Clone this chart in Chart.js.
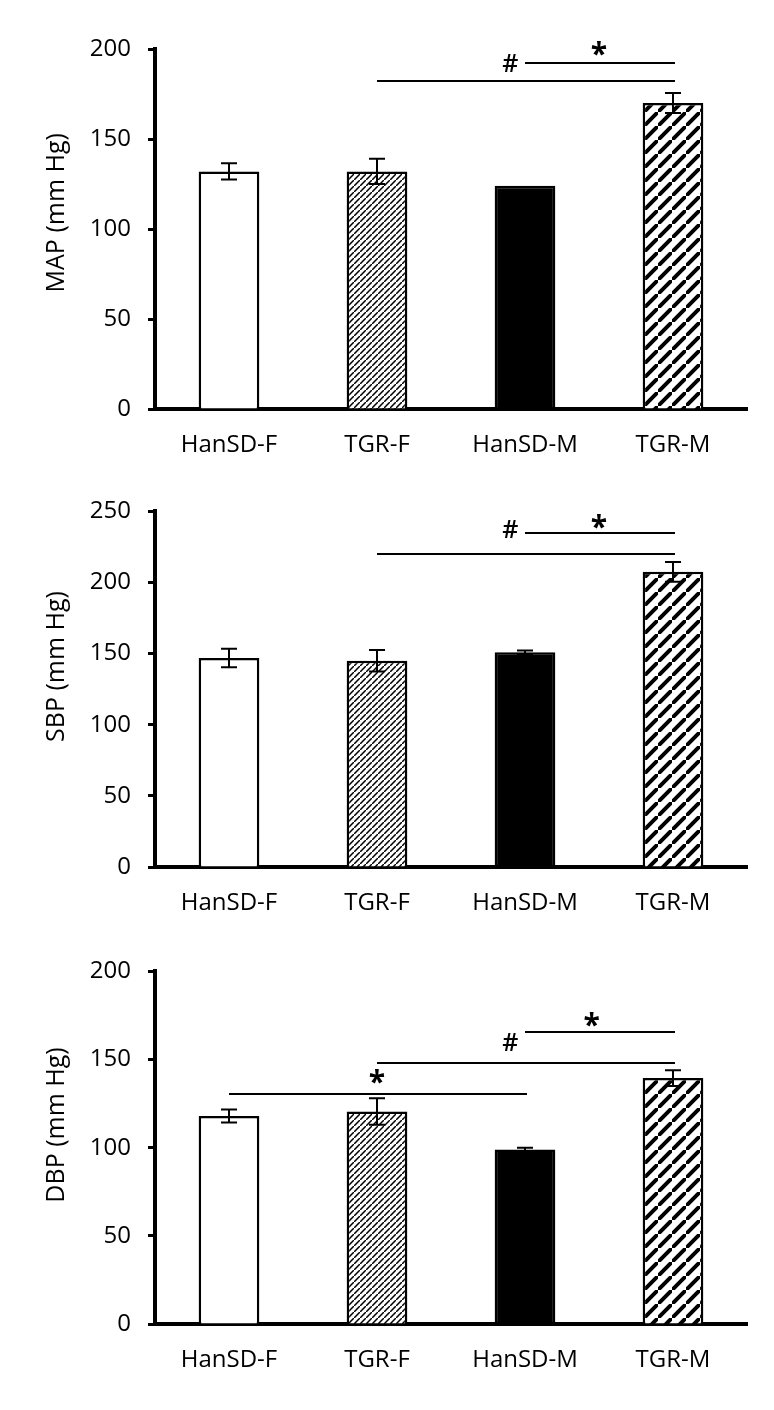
<!DOCTYPE html>
<html><head><meta charset="utf-8">
<script src="https://cdn.jsdelivr.net/npm/chart.js@4.4.1/dist/chart.umd.min.js"></script>
<style>
html,body{margin:0;padding:0;background:#fff;}
body{width:774px;height:1410px;position:relative;overflow:hidden;}
canvas{position:absolute;left:0;display:block;}
</style></head><body>
<canvas id="c1" width="774" height="480" style="top:0px"></canvas>
<canvas id="c2" width="774" height="460" style="top:480px"></canvas>
<canvas id="c3" width="774" height="470" style="top:940px"></canvas>
<script>
// ---- data ----
const categories = ['HanSD-F', 'TGR-F', 'HanSD-M', 'TGR-M'];

const mapMeans  = [132, 132, 124, 170];
const mapErrors = [4.5, 7, 0, 5.5];
const mapTicks  = [0, 50, 100, 150, 200];
// bracket: [fromCategory, toCategory, level]
const mapBrackets = [[1, 3, 182], [2, 3, 192]];
// mark: [text, categoryPosition, level]
const mapMarks = [['#', 1.9, 192.5], ['*', 2.5, 200.3]];

const sbpMeans  = [147, 145, 151, 207.5];
const sbpErrors = [6.5, 7.5, 1.2, 7];
const sbpTicks  = [0, 50, 100, 150, 200, 250];
const sbpBrackets = [[1, 3, 220], [2, 3, 234.5]];
const sbpMarks = [['#', 1.9, 237.8], ['*', 2.5, 243]];

const dbpMeans  = [118, 120.5, 99, 139.5];
const dbpErrors = [3.7, 7.5, 1, 4.5];
const dbpTicks  = [0, 50, 100, 150, 200];
const dbpBrackets = [[0, 2, 130.6], [1, 3, 148], [2, 3, 165.6]];
const dbpMarks = [['*', 1, 140.5], ['#', 1.9, 159.7], ['*', 2.45, 172.5]];

// ---- styles ----
Chart.defaults.font.family = 'Open Sans';
const INK = '#000';

function hatch(size, lw) {
  const c = document.createElement('canvas');
  c.width = c.height = size;
  const g = c.getContext('2d');
  g.fillStyle = '#fff'; g.fillRect(0, 0, size, size);
  g.strokeStyle = '#000'; g.lineWidth = lw;
  g.beginPath();
  g.moveTo(-size, size * 2); g.lineTo(size * 2, -size);
  g.moveTo(-size * 2, size); g.lineTo(size, -size * 2);
  g.moveTo(0, size * 3); g.lineTo(size * 3, 0);
  g.stroke();
  return g.createPattern(c, 'repeat');
}
const fineHatch = hatch(6, 1.5);
const thickHatch = hatch(14, 4);
const barFills = ['#ffffff', fineHatch, '#000000', thickHatch];

function annotPlugin(errors, brackets, marks) {
  return {
    id: 'annot',
    afterDatasetsDraw(chart) {
      const ctx = chart.ctx, xs = chart.scales.x, ys = chart.scales.y;
      const means = chart.data.datasets[0].data;
      const p0 = xs.getPixelForValue(0), p1 = xs.getPixelForValue(1);
      const xAt = f => p0 + f * (p1 - p0);
      ctx.save();
      ctx.strokeStyle = '#000';
      ctx.lineWidth = 2;
      // error bars
      means.forEach((m, i) => {
        if (!errors[i]) return;
        const x = xs.getPixelForValue(i);
        const yt = ys.getPixelForValue(m + errors[i]);
        const yb = ys.getPixelForValue(m - errors[i]);
        ctx.beginPath();
        ctx.moveTo(x, yt); ctx.lineTo(x, yb);
        ctx.moveTo(x - 8, yt); ctx.lineTo(x + 8, yt);
        ctx.moveTo(x - 8, yb); ctx.lineTo(x + 8, yb);
        ctx.stroke();
      });
      // significance lines
      brackets.forEach(([a, b, lv]) => {
        const y = Math.round(ys.getPixelForValue(lv));
        ctx.beginPath();
        ctx.moveTo(xs.getPixelForValue(a), y);
        ctx.lineTo(xs.getPixelForValue(b) + 2, y);
        ctx.stroke();
      });
      // marks
      ctx.fillStyle = INK;
      ctx.textAlign = 'center';
      ctx.textBaseline = 'alphabetic';
      marks.forEach(([t, f, lv]) => {
        ctx.font = t === '*' ? 'bold 30px "Open Sans"' : '600 25px "Open Sans"';
        const mt = ctx.measureText(t);
        const cy = ys.getPixelForValue(lv);
        const base = cy + (mt.actualBoundingBoxAscent - mt.actualBoundingBoxDescent) / 2;
        ctx.fillText(t, xAt(f), base);
      });
      ctx.restore();
    }
  };
}

function makeChart(id, title, means, errors, ticks, brackets, marks, topPad, xH) {
  new Chart(document.getElementById(id), {
    type: 'bar',
    data: {
      labels: categories,
      datasets: [{
        data: means,
        backgroundColor: barFills,
        borderColor: '#000',
        borderWidth: 2.5,
        borderSkipped: 'bottom',
        barPercentage: 0.41,
        categoryPercentage: 1
      }]
    },
    options: {
      responsive: false,
      animation: false,
      events: [],
      layout: { padding: { left: 0, right: 27, top: topPad, bottom: 0 } },
      plugins: { legend: { display: false }, tooltip: { enabled: false } },
      scales: {
        x: {
          z: 1,
          grid: { display: false, drawTicks: false },
          border: { display: true, color: '#000', width: 4 },
          ticks: { color: INK, font: { family: 'Open Sans', size: 24 }, padding: 22, maxRotation: 0, autoSkip: false },
          afterFit(s) { s.height = xH; }
        },
        y: {
          z: 1,
          min: ticks[0],
          max: ticks[ticks.length - 1],
          grid: { display: true, drawOnChartArea: false, drawTicks: true, tickLength: 7, tickWidth: 3, tickColor: '#000' },
          border: { display: true, color: '#000', width: 4 },
          ticks: { color: INK, font: { family: 'Open Sans', size: 24 }, padding: 17 },
          afterBuildTicks(s) { s.ticks = ticks.map(v => ({ value: v })); },
          title: { display: true, text: title, color: INK, font: { family: 'Open Sans', size: 25 }, padding: { top: 42, bottom: 0 } },
          afterFit(s) { s.width = 155; }
        }
      }
    },
    plugins: [annotPlugin(errors, brackets, marks)]
  });
}

makeChart('c1', '     MAP (mm Hg)', mapMeans, mapErrors, mapTicks, mapBrackets, mapMarks, 49, 71);
makeChart('c2', '       SBP (mm Hg)', sbpMeans, sbpErrors, sbpTicks, sbpBrackets, sbpMarks, 27, 73);
makeChart('c3', '       DBP (mm Hg)', dbpMeans, dbpErrors, dbpTicks, dbpBrackets, dbpMarks, 24, 86);
</script>
</body></html>
